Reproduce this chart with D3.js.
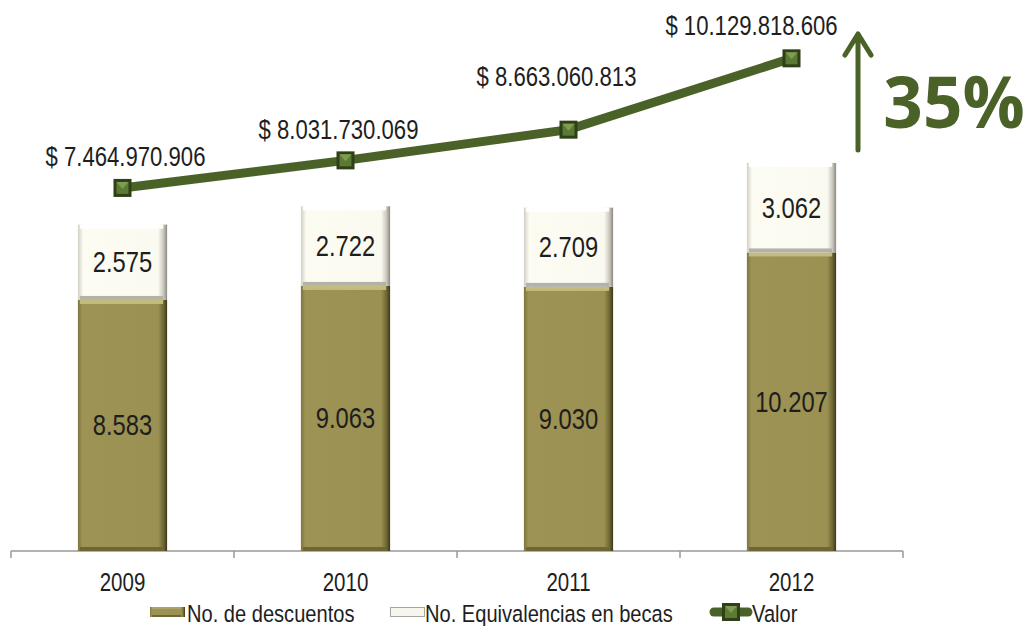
<!DOCTYPE html>
<html>
<head>
<meta charset="utf-8">
<script src="https://cdn.jsdelivr.net/npm/d3@7"></script>
<style>
  body { margin: 0; background: #fff; }
  text { font-family: "Liberation Sans", Arial, sans-serif; }
</style>
</head>
<body>
<div id="chart"></div>
<script>
var years = ["2009", "2010", "2011", "2012"];
var descuentos = [8583, 9063, 9030, 10207];
var equivalencias = [2575, 2722, 2709, 3062];
var valor = [7464970906, 8031730069, 8663060813, 10129818606];
var legendNames = ["No. de descuentos", "No. Equivalencias en becas", "Valor"];
var growthLabel = "35%";

var fmt = function(n) {
  return String(n).replace(/\B(?=(\d{3})+(?!\d))/g, ".");
};

var width = 1028, height = 626;
var svg = d3.select("#chart").append("svg")
  .attr("width", width)
  .attr("height", height);

// narrow text: Liberation Sans squeezed like Arial Narrow
function narrow(g, tx, ty, size, str, anchor) {
  return g.append("text")
    .attr("transform", "translate(" + tx + "," + ty + ") scale(0.82,1)")
    .attr("text-anchor", anchor || "middle")
    .attr("font-size", size)
    .attr("fill", "#1e1e1e")
    .text(str);
}

var defs = svg.append("defs");
function grad(id, stops) {
  var g = defs.append("linearGradient").attr("id", id)
    .attr("x1", 0).attr("y1", 0).attr("x2", 1).attr("y2", 0);
  stops.forEach(function(s) {
    g.append("stop").attr("offset", s[0]).attr("stop-color", s[1]);
  });
}
grad("olive", [[0, "#7e7440"], [0.05, "#9c9354"], [0.9, "#9a9152"], [0.96, "#6e6634"], [1, "#3d3818"]]);
grad("cream", [[0, "#d2cfc6"], [0.06, "#fdfcf3"], [0.9, "#fbfaf0"], [0.96, "#c9c7bd"], [1, "#8a8880"]]);

var x = d3.scaleBand()
  .domain(years)
  .range([11, 903])
  .paddingInner(0.6)
  .paddingOuter(0.3);

var y = d3.scaleLinear()
  .domain([0, 16000])
  .range([551, 83]);

var y2 = d3.scaleLinear()
  .domain([0, 11e9])
  .range([551, 16]);

// axis
svg.append("line")
  .attr("x1", 11).attr("x2", 903)
  .attr("y1", 551).attr("y2", 551)
  .attr("stroke", "#999").attr("stroke-width", 1.5);
var ticks = [11].concat(years.map(function(d) { return x(d) + x.bandwidth() + x.step() * x.paddingInner() / 2; }));
svg.selectAll(".tick").data(ticks).enter().append("line")
  .attr("x1", function(d) { return d; }).attr("x2", function(d) { return d; })
  .attr("y1", 551).attr("y2", 558)
  .attr("stroke", "#999").attr("stroke-width", 1.5);

years.forEach(function(d) {
  narrow(svg, x(d) + x.bandwidth() / 2, 591, 25, d);
});

// stacked bars
function bevel(g, x0, y0, w, h, fill, top, bottom, edge) {
  g.append("rect").attr("x", x0).attr("y", y0).attr("width", w).attr("height", h).attr("fill", fill);
  g.append("rect").attr("x", x0 + 2).attr("y", y0).attr("width", w - 6).attr("height", edge).attr("fill", top);
  g.append("rect").attr("x", x0 + 2).attr("y", y0 + h - edge).attr("width", w - 6).attr("height", edge).attr("fill", bottom);
}

years.forEach(function(yr, i) {
  var g = svg.append("g");
  var bx = x(yr), bw = x.bandwidth();
  var y0 = y(descuentos[i]), y1 = y(descuentos[i] + equivalencias[i]);
  bevel(g, bx, y0, bw, 551 - y0, "url(#olive)", "#c4bc7c", "#6f6733", 4);
  bevel(g, bx, y1, bw, y0 - y1, "url(#cream)", "#ffffff", "#b4b2a8", 4);
  narrow(g, bx + bw / 2, (y0 + 551) / 2 + 10, 29, fmt(descuentos[i]));
  narrow(g, bx + bw / 2, (y0 + y1) / 2 + 10, 29, fmt(equivalencias[i]));
});

// valor line
var lineColor = "#4a6228";
var line = d3.line()
  .x(function(d, i) { return x(years[i]) + x.bandwidth() / 2; })
  .y(function(d) { return y2(d); });

svg.append("path")
  .datum(valor)
  .attr("d", line)
  .attr("fill", "none")
  .attr("stroke", lineColor)
  .attr("stroke-width", 9);

function marker(g, cx, cy) {
  g.append("rect").attr("x", cx - 9).attr("y", cy - 9).attr("width", 18).attr("height", 18)
    .attr("fill", "#2f3f17");
  g.append("rect").attr("x", cx - 6).attr("y", cy - 6).attr("width", 12).attr("height", 12)
    .attr("fill", "#5b7a33");
  g.append("path").attr("d", "M" + (cx - 6) + "," + (cy - 6) + "L" + (cx + 6) + "," + (cy - 6) + "L" + cx + "," + (cy + 1) + "Z")
    .attr("fill", "#7f9d52");
}

var labelDy = [-22, -21, -44, -23];
var labelDx = [3, -7, -12, -40];
valor.forEach(function(v, i) {
  var cx = x(years[i]) + x.bandwidth() / 2, cy = y2(v);
  marker(svg, cx, cy);
  narrow(svg, cx + labelDx[i], cy + labelDy[i], 27, "$ " + fmt(v));
});

// growth arrow
svg.append("path")
  .attr("d", "M858,150 L858,34 M845,55 L858,34 L871,55")
  .attr("fill", "none")
  .attr("stroke", lineColor)
  .attr("stroke-width", 5)
  .attr("stroke-linecap", "round")
  .attr("stroke-linejoin", "round");
svg.append("text")
  .attr("transform", "translate(954,128) scale(0.96,1)")
  .attr("text-anchor", "middle")
  .attr("font-size", 72)
  .attr("font-weight", "bold")
  .style("font-family", "'Open Sans', 'Noto Sans', sans-serif")
  .attr("fill", lineColor)
  .text(growthLabel);

// legend
var lg = svg.append("g").attr("transform", "translate(0,622)");
bevel(lg, 150, -15, 35, 10, "url(#olive)", "#aaa266", "#6f6733", 2);
narrow(lg, 187, 0, 24.5, legendNames[0], "start");
lg.append("rect").attr("x", 390.5).attr("y", -14.5).attr("width", 34).attr("height", 9)
  .attr("fill", "#f7f6ee").attr("stroke", "#a8a79f").attr("stroke-width", 1);
narrow(lg, 425, 0, 24.5, legendNames[1], "start");
lg.append("line").attr("x1", 714).attr("x2", 748).attr("y1", -10).attr("y2", -10)
  .attr("stroke", lineColor).attr("stroke-width", 9).attr("stroke-linecap", "round");
marker(lg, 731, -10);
narrow(lg, 752, 0, 24.5, legendNames[2], "start");
</script>
</body>
</html>
